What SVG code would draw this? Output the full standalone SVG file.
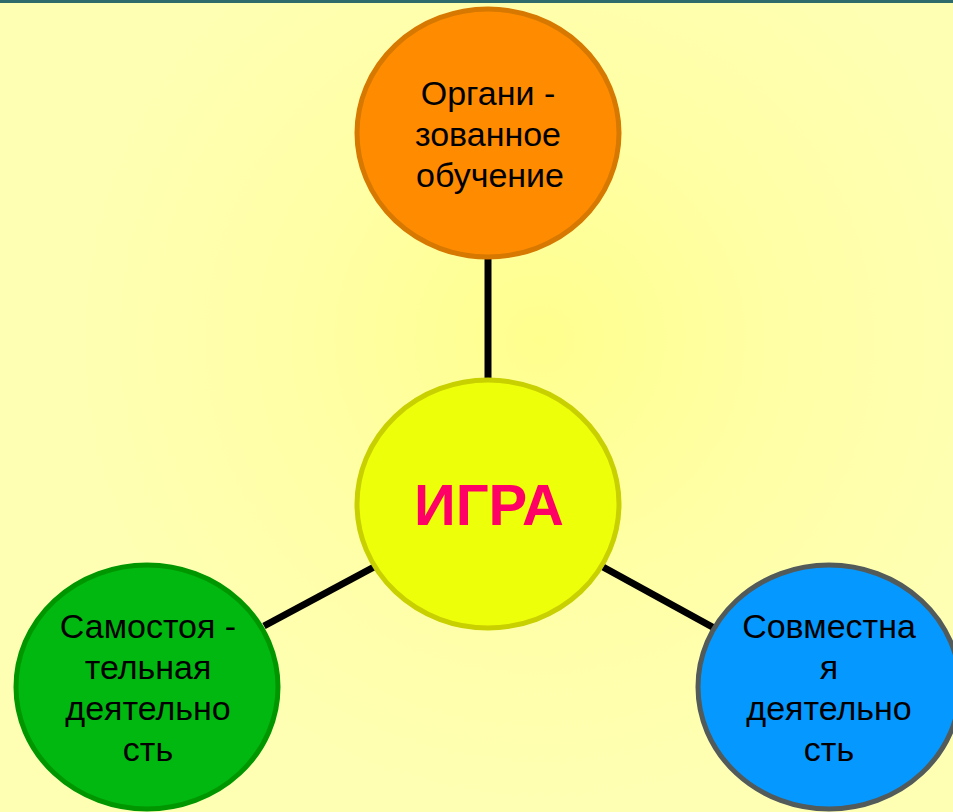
<svg xmlns="http://www.w3.org/2000/svg" width="953" height="812" viewBox="0 0 953 812">
<defs>
<radialGradient id="bg" cx="540" cy="340" r="480" gradientUnits="userSpaceOnUse">
<stop offset="0" stop-color="#FFFF8E"/>
<stop offset="0.5" stop-color="#FFFFA6"/>
<stop offset="1" stop-color="#FFFFB4"/>
</radialGradient>
<style>
.lbl{font-family:"Liberation Sans",Arial,sans-serif;font-size:34px;fill:#000;text-anchor:middle}
.main{font-family:"Liberation Sans",Arial,sans-serif;font-size:58px;font-weight:bold;fill:#FF0066;text-anchor:middle}
.conn{stroke:#000;stroke-width:7;fill:none}
</style>
</defs>
<rect width="953" height="812" fill="url(#bg)"/>
<rect width="953" height="3" fill="#2F6B6B"/>
<g id="connectors">
<line class="conn" x1="488" y1="255" x2="488" y2="382"/>
<line class="conn" x1="264" y1="626" x2="374" y2="567"/>
<line class="conn" x1="603" y1="567" x2="716" y2="629"/>
</g>
<g id="node-top">
<ellipse cx="488" cy="133" rx="131" ry="124" fill="#FF8C00" stroke="#D77800" stroke-width="5"/>
<text class="lbl" x="488" y="105">Органи -</text>
<text class="lbl" x="488" y="146">зованное</text>
<text class="lbl" x="490" y="187">обучение</text>
</g>
<g id="node-center">
<ellipse cx="488" cy="504" rx="131" ry="124" fill="#EEFF0A" stroke="#C8D000" stroke-width="5"/>
<text class="main" x="489" y="525">ИГРА</text>
</g>
<g id="node-left">
<ellipse cx="147" cy="687" rx="131" ry="122" fill="#00B810" stroke="#009600" stroke-width="5"/>
<text class="lbl" x="148" y="638">Самостоя -</text>
<text class="lbl" x="148" y="679">тельная</text>
<text class="lbl" x="148" y="720">деятельно</text>
<text class="lbl" x="148" y="761">сть</text>
</g>
<g id="node-right">
<ellipse cx="829" cy="687" rx="131" ry="122" fill="#0599FF" stroke="#525A5A" stroke-width="5"/>
<text class="lbl" x="829" y="638">Совместна</text>
<text class="lbl" x="829" y="679">я</text>
<text class="lbl" x="829" y="720">деятельно</text>
<text class="lbl" x="829" y="761">сть</text>
</g>
</svg>
